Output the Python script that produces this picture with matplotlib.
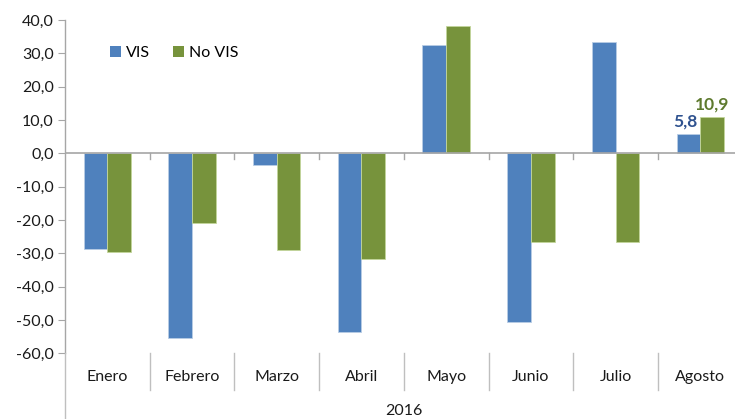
import matplotlib.pyplot as plt
import numpy as np
from matplotlib.ticker import FuncFormatter
from matplotlib.lines import Line2D
from matplotlib.patches import Patch
import matplotlib.transforms as mtransforms

plt.rcParams['font.family'] = ['Lato', 'DejaVu Sans']

months = ['Enero', 'Febrero', 'Marzo', 'Abril', 'Mayo', 'Junio', 'Julio', 'Agosto']
vis = [-28.6, -55.4, -3.5, -53.5, 32.4, -50.7, 33.5, 5.8]
no_vis = [-29.6, -21.0, -28.9, -31.8, 38.1, -26.5, -26.7, 10.9]
year = '2016'

blue = '#4F81BD'
green = '#77933C'
axis_grey = '#A6A6A6'

W, H = 735, 419
fig = plt.figure(figsize=(W / 100, H / 100), dpi=100)
left, right = 65 / W, 1.0
bottom, top = 1 - 353.3 / H, 1 - 20 / H
ax = fig.add_axes([left, bottom, right - left, top - bottom])

x = np.arange(len(months))
bw = 0.28
b1 = ax.bar(x - bw / 2, vis, bw, color=blue, edgecolor='#B9CDE5', linewidth=0.6, zorder=2)
b2 = ax.bar(x + bw / 2, no_vis, bw, color=green, edgecolor='#C3D69B', linewidth=0.6, zorder=2)

ax.set_ylim(-60, 40)
ax.set_xlim(-0.5, 7.41)
ax.set_yticks(np.arange(-60, 41, 10))
ax.yaxis.set_major_formatter(FuncFormatter(lambda v, p: '{:.1f}'.format(v).replace('.', ',')))
ax.tick_params(axis='y', direction='out', length=5, color=axis_grey, labelsize=11.5,
               labelcolor='#1a1a1a', pad=3)

for s in ['top', 'right', 'bottom']:
    ax.spines[s].set_visible(False)
ax.spines['left'].set_color(axis_grey)
ax.spines['left'].set_linewidth(1.0)

# zero axis line with ticks between categories
ax.axhline(0, color=axis_grey, linewidth=1.2, zorder=3)
ax.set_xticks([])
for b in np.arange(0.5, len(months), 1.0):
    ax.plot([b, b], [0, -1.6], color=axis_grey, linewidth=1.0, zorder=3, clip_on=False)

# category dividers and labels below plot
fig_tr = mtransforms.blended_transform_factory(ax.transData, fig.transFigure)
y_top_div = bottom
y_bot_div = 1 - 390 / H
for b in np.arange(0.5, len(months), 1.0):
    fig.add_artist(Line2D([b, b], [y_top_div, y_bot_div], transform=fig_tr,
                          color='#BFBFBF', linewidth=1.0))
for i, m in enumerate(months):
    fig.text(i, 1 - 377 / H, m, transform=fig_tr, ha='center', va='center',
             fontsize=11.5, color='#1a1a1a')
fig.add_artist(Line2D([left, left], [bottom, 0], transform=fig.transFigure,
                      color='#BFBFBF', linewidth=1.0))
fig.text(404 / W, 1 - 411 / H, year, ha='center', va='center', fontsize=11.5, color='#1a1a1a')

# data labels on last month
ax.annotate('5,8', (x[-1] - bw / 2, vis[-1]), xytext=(-2, 3), textcoords='offset points',
            ha='center', va='bottom', fontsize=12.5, fontweight='bold', color='#2F528F')
ax.annotate('10,9', (x[-1] + bw / 2, no_vis[-1]), xytext=(0, 3), textcoords='offset points',
            ha='center', va='bottom', fontsize=12.5, fontweight='bold', color='#5E7A2E')

handles = [Patch(facecolor=blue), Patch(facecolor=green)]
ax.legend(handles, ['VIS', 'No VIS'], ncol=2, frameon=False, loc='upper left',
          bbox_to_anchor=(0.045, 0.965), fontsize=11.5, handlelength=0.7, handleheight=0.7,
          handletextpad=0.35, columnspacing=1.4)

fig.savefig('out.png', dpi=100)
